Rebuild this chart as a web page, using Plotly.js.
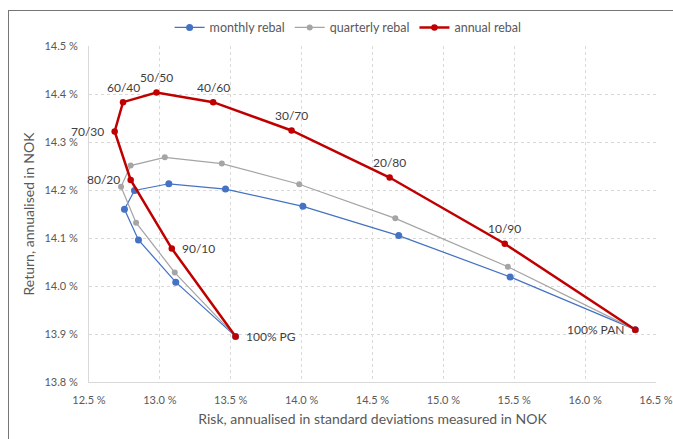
<!DOCTYPE html>
<html>
<head>
<meta charset="utf-8">
<script src="https://cdn.plot.ly/plotly-3.0.1.min.js"></script>
<style>
  html, body { margin:0; padding:0; background:#fff; overflow:hidden; }
  #frame { position:absolute; left:8px; top:10px; width:700px; height:460px; border-top:1.5px solid #767676; border-left:1.5px solid #767676; }
  #chart { position:absolute; left:0; top:0; width:673px; height:439px; }
</style>
</head>
<body>
<div id="frame"></div>
<div id="chart"></div>
<script>
// Risk (x, %) and return (y, %) for each portfolio, PG -> PAN order
const monthlyRisk   = [13.534, 13.112, 12.849, 12.750, 12.821, 13.063, 13.463, 14.009, 14.685, 15.471, 16.354];
const monthlyRet    = [13.895, 14.008, 14.096, 14.160, 14.199, 14.213, 14.202, 14.166, 14.105, 14.019, 13.909];
const quarterlyRisk = [13.534, 13.105, 12.832, 12.726, 12.794, 13.035, 13.437, 13.983, 14.661, 15.455, 16.354];
const quarterlyRet  = [13.895, 14.028, 14.132, 14.207, 14.251, 14.268, 14.255, 14.212, 14.141, 14.040, 13.909];
const annualRisk    = [13.534, 13.084, 12.794, 12.681, 12.740, 12.976, 13.376, 13.929, 14.621, 15.433, 16.354];
const annualRet     = [13.895, 14.078, 14.221, 14.322, 14.383, 14.403, 14.383, 14.324, 14.226, 14.088, 13.909];
const pointLabels   = ["100% PG", "90/10", "80/20", "70/30", "60/40", "50/50", "40/60", "30/70", "20/80", "10/90", "100% PAN"];
const seriesNames   = ["monthly rebal", "quarterly rebal", "annual rebal"];
const xTicks = [12.5, 13.0, 13.5, 14.0, 14.5, 15.0, 15.5, 16.0, 16.5];
const yTicks = [13.8, 13.9, 14.0, 14.1, 14.2, 14.3, 14.4, 14.5];

const FONT = "Lato, 'Open Sans', sans-serif";

// label placement (style): side of the point where each label sits
const labelSide = ["right", "right", "left", "left", "top", "top", "top", "top", "top", "top", "left"];

const traces = [
  { x: monthlyRisk, y: monthlyRet, name: seriesNames[0], type: 'scatter', mode: 'lines+markers',
    line: { color: '#4472C4', width: 1.25 }, marker: { color: '#4472C4', size: 7 } },
  { x: quarterlyRisk, y: quarterlyRet, name: seriesNames[1], type: 'scatter', mode: 'lines+markers',
    line: { color: '#A5A5A5', width: 1.25 }, marker: { color: '#A5A5A5', size: 6 } },
  { x: annualRisk, y: annualRet, name: seriesNames[2], type: 'scatter', mode: 'lines+markers',
    line: { color: '#C00000', width: 2.5 }, marker: { color: '#C00000', size: 6.5 } }
];

const annotations = pointLabels.map((t, i) => {
  const side = labelSide[i];
  const a = { x: annualRisk[i], y: annualRet[i], xref: 'x', yref: 'y', text: t, showarrow: false,
    font: { family: FONT, size: 12, color: '#404040' }, yanchor: 'middle' };
  if (side === 'top') { a.xanchor = 'center'; a.yshift = 15; }
  else if (side === 'left') { a.xanchor = 'right'; a.xshift = -9; }
  else { a.xanchor = 'left'; a.xshift = 8; }
  return a;
});

const axisCommon = {
  showgrid: true, gridcolor: '#d9d9d9', griddash: '3px,3px', gridwidth: 1,
  zeroline: false, ticks: '', tickmode: 'array',
  tickfont: { family: FONT, size: 11, color: '#595959' },
  showline: true, linecolor: '#d9d9d9', linewidth: 1
};

const layout = {
  width: 673, height: 439,
  margin: { l: 89.3, r: 17.3, t: 46.3, b: 56.7 },
  paper_bgcolor: 'rgba(0,0,0,0)', plot_bgcolor: 'rgba(0,0,0,0)',
  showlegend: true,
  legend: { orientation: 'h', x: 0.457, xanchor: 'center', y: 1.054, yanchor: 'middle',
    font: { family: FONT, size: 12.5, color: '#595959' }, itemwidth: 30, traceorder: 'normal' },
  xaxis: Object.assign({}, axisCommon, {
    range: [12.5, 16.5], tickvals: xTicks, ticktext: xTicks.map(v => v.toFixed(1) + ' %'),
    ticklabelstandoff: 8,
    title: { text: 'Risk, annualised in standard deviations measured in NOK', font: { family: FONT, size: 14, color: '#595959' }, standoff: 8 }
  }),
  yaxis: Object.assign({}, axisCommon, {
    range: [13.8, 14.5], tickvals: yTicks, ticktext: yTicks.map(v => v.toFixed(1) + ' %'),
    ticklabelstandoff: 8,
    title: { text: 'Return, annualised in NOK', font: { family: FONT, size: 14, color: '#595959' }, standoff: 6 }
  }),
  annotations: annotations,
  hovermode: false
};

Plotly.newPlot('chart', traces, layout, { displayModeBar: false, staticPlot: true });
</script>
</body>
</html>
